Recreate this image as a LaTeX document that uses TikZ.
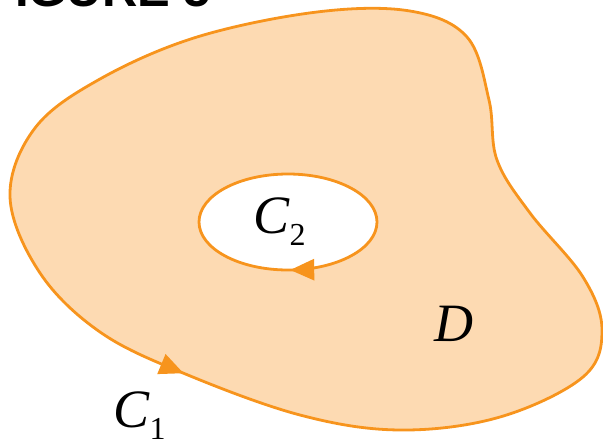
\documentclass[tikz,border=0pt]{standalone}
\usepackage{fontspec}
\setmainfont{Liberation Serif}
\newfontfamily\figfont{Liberation Sans}
\usepackage{tikz}
\usetikzlibrary{arrows.meta,decorations.markings}
\definecolor{regionfill}{RGB}{253, 218, 178}
\definecolor{curveorange}{RGB}{247, 148, 29}
\newcommand{\subidx}[1]{\raisebox{-12pt}{\fontsize{32}{32}\selectfont\upshape #1}}

\begin{document}
\begin{tikzpicture}[
  x=1pt, y=-1pt,
  boundary/.style={draw=curveorange, line width=2.8pt, line join=round},
  orient/.style={postaction={decorate}, decoration={markings, mark=at position #1 with {\arrow{Triangle[length=24pt,width=21pt,color=curveorange]}}}},
  curvelabel/.style={anchor=base west, inner sep=0pt, font=\fontsize{54}{54}\selectfont\itshape}
]
\useasboundingbox (0,0) rectangle (603,440);

% region D with outer curve C1
\draw[boundary, fill=regionfill, orient=178pt] plot[smooth cycle, tension=0.6] coordinates {
  (10,197) (40,273) (100,332) (183,373) (300,415) (400,430) (500,417)
  (583,377) (602,330) (583,277) (530,213) (497,160) (489,100) (467,37)
  (410,11) (317,12) (197,37) (100,79) (35,128)};

% hole with inner curve C2
\draw[boundary, fill=white, orient=0.245] (288,222) ellipse [x radius=89, y radius=48];

\node[anchor=base west, inner sep=0pt, font=\figfont\fontsize{49}{49}\selectfont\bfseries] (figlbl) at (-15,6) {FIGURE 5};
\node[curvelabel] (c2lbl) at (253.5,233) {C\subidx{2}};
\node[curvelabel] (dlbl) at (434,341) {D};
\node[curvelabel] (c1lbl) at (113.5,427) {C\subidx{1}};
\end{tikzpicture}
\end{document}
